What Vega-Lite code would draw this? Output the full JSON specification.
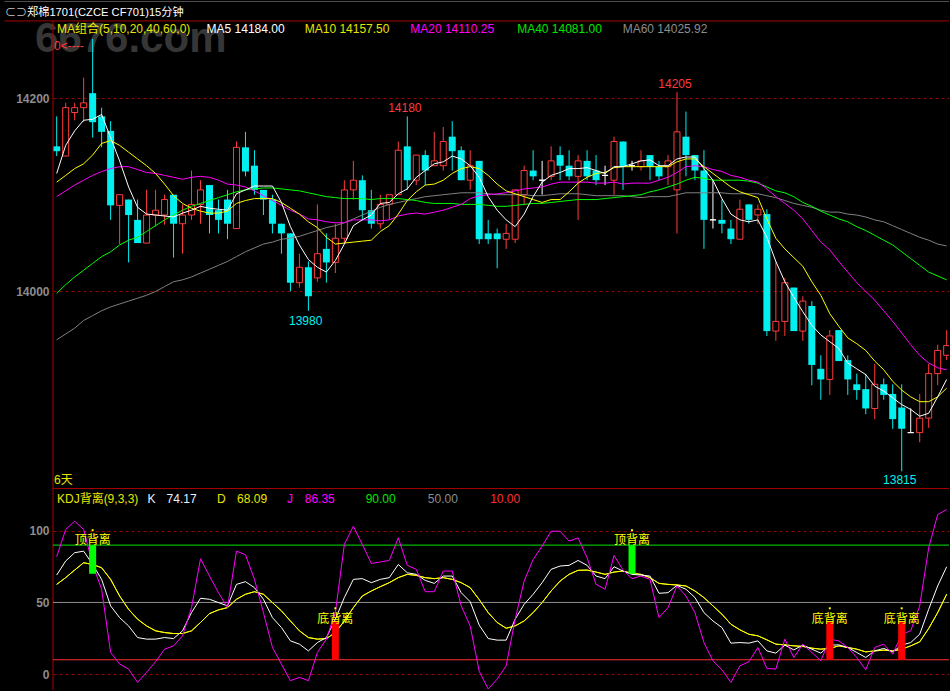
{
"$schema": "https://vega.github.io/schema/vega-lite/v6.json",
"width": 950, "height": 691,
"autosize": {"type": "fit", "contains": "padding"},
"padding": 0,
"background": "#000000",
"config": {"view": {"stroke": null}, "text": {"font": "Liberation Sans, Noto Sans CJK SC", "fontSize": 12, "align": "left", "baseline": "middle"}},
"datasets": {
"candles": [
{"i":0,"o":14150,"h":14181,"l":14140,"c":14145,"d":"down"},
{"i":1,"o":14140,"h":14195,"l":14140,"c":14190,"d":"up"},
{"i":2,"o":14185,"h":14195,"l":14177,"c":14190,"d":"up"},
{"i":3,"o":14190,"h":14221,"l":14175,"c":14195,"d":"up"},
{"i":4,"o":14205,"h":14261,"l":14159,"c":14175,"d":"down"},
{"i":5,"o":14181,"h":14190,"l":14149,"c":14165,"d":"down"},
{"i":6,"o":14166,"h":14176,"l":14074,"c":14089,"d":"down"},
{"i":7,"o":14089,"h":14100,"l":14049,"c":14100,"d":"up"},
{"i":8,"o":14095,"h":14095,"l":14030,"c":14079,"d":"down"},
{"i":9,"o":14074,"h":14095,"l":14050,"c":14050,"d":"down"},
{"i":10,"o":14050,"h":14105,"l":14050,"c":14079,"d":"up"},
{"i":11,"o":14079,"h":14105,"l":14067,"c":14084,"d":"up"},
{"i":12,"o":14079,"h":14100,"l":14069,"c":14095,"d":"up"},
{"i":13,"o":14100,"h":14100,"l":14035,"c":14070,"d":"down"},
{"i":14,"o":14070,"h":14090,"l":14039,"c":14079,"d":"up"},
{"i":15,"o":14079,"h":14125,"l":14074,"c":14090,"d":"up"},
{"i":16,"o":14090,"h":14115,"l":14070,"c":14105,"d":"up"},
{"i":17,"o":14110,"h":14110,"l":14060,"c":14079,"d":"down"},
{"i":18,"o":14084,"h":14095,"l":14060,"c":14074,"d":"down"},
{"i":19,"o":14095,"h":14105,"l":14054,"c":14070,"d":"down"},
{"i":20,"o":14065,"h":14155,"l":14065,"c":14149,"d":"up"},
{"i":21,"o":14149,"h":14165,"l":14119,"c":14124,"d":"down"},
{"i":22,"o":14130,"h":14146,"l":14100,"c":14105,"d":"down"},
{"i":23,"o":14105,"h":14105,"l":14079,"c":14095,"d":"down"},
{"i":24,"o":14095,"h":14100,"l":14060,"c":14070,"d":"down"},
{"i":25,"o":14070,"h":14070,"l":14039,"c":14060,"d":"down"},
{"i":26,"o":14060,"h":14060,"l":14000,"c":14009,"d":"down"},
{"i":27,"o":14009,"h":14039,"l":14004,"c":14025,"d":"up"},
{"i":28,"o":14025,"h":14031,"l":13980,"c":13995,"d":"down"},
{"i":29,"o":14014,"h":14090,"l":14010,"c":14039,"d":"up"},
{"i":30,"o":14044,"h":14060,"l":14009,"c":14030,"d":"down"},
{"i":31,"o":14030,"h":14070,"l":14019,"c":14055,"d":"up"},
{"i":32,"o":14055,"h":14115,"l":14050,"c":14105,"d":"up"},
{"i":33,"o":14105,"h":14135,"l":14095,"c":14115,"d":"up"},
{"i":34,"o":14115,"h":14120,"l":14074,"c":14084,"d":"down"},
{"i":35,"o":14084,"h":14105,"l":14065,"c":14070,"d":"down"},
{"i":36,"o":14070,"h":14100,"l":14065,"c":14090,"d":"up"},
{"i":37,"o":14090,"h":14100,"l":14074,"c":14100,"d":"up"},
{"i":38,"o":14100,"h":14155,"l":14100,"c":14146,"d":"up"},
{"i":39,"o":14150,"h":14181,"l":14105,"c":14115,"d":"down"},
{"i":40,"o":14115,"h":14141,"l":14110,"c":14141,"d":"up"},
{"i":41,"o":14141,"h":14146,"l":14110,"c":14125,"d":"down"},
{"i":42,"o":14130,"h":14165,"l":14130,"c":14135,"d":"up"},
{"i":43,"o":14130,"h":14170,"l":14125,"c":14155,"d":"up"},
{"i":44,"o":14160,"h":14176,"l":14125,"c":14145,"d":"down"},
{"i":45,"o":14146,"h":14150,"l":14115,"c":14115,"d":"down"},
{"i":46,"o":14115,"h":14146,"l":14105,"c":14130,"d":"up"},
{"i":47,"o":14135,"h":14135,"l":14049,"c":14054,"d":"down"},
{"i":48,"o":14060,"h":14074,"l":14049,"c":14054,"d":"down"},
{"i":49,"o":14060,"h":14065,"l":14024,"c":14054,"d":"down"},
{"i":50,"o":14054,"h":14070,"l":14044,"c":14060,"d":"up"},
{"i":51,"o":14054,"h":14105,"l":14050,"c":14105,"d":"up"},
{"i":52,"o":14100,"h":14130,"l":14089,"c":14125,"d":"up"},
{"i":53,"o":14125,"h":14146,"l":14115,"c":14119,"d":"down"},
{"i":54,"o":14115,"h":14135,"l":14100,"c":14115,"d":"flat"},
{"i":55,"o":14119,"h":14150,"l":14115,"c":14135,"d":"up"},
{"i":56,"o":14141,"h":14150,"l":14115,"c":14130,"d":"down"},
{"i":57,"o":14130,"h":14146,"l":14115,"c":14119,"d":"down"},
{"i":58,"o":14119,"h":14141,"l":14074,"c":14135,"d":"up"},
{"i":59,"o":14135,"h":14146,"l":14115,"c":14119,"d":"down"},
{"i":60,"o":14125,"h":14141,"l":14110,"c":14115,"d":"down"},
{"i":61,"o":14120,"h":14130,"l":14110,"c":14120,"d":"flat"},
{"i":62,"o":14115,"h":14160,"l":14100,"c":14155,"d":"up"},
{"i":63,"o":14155,"h":14155,"l":14105,"c":14129,"d":"down"},
{"i":64,"o":14130,"h":14135,"l":14125,"c":14130,"d":"flat"},
{"i":65,"o":14129,"h":14146,"l":14125,"c":14135,"d":"up"},
{"i":66,"o":14141,"h":14141,"l":14115,"c":14129,"d":"down"},
{"i":67,"o":14129,"h":14135,"l":14115,"c":14119,"d":"down"},
{"i":68,"o":14129,"h":14141,"l":14110,"c":14135,"d":"up"},
{"i":69,"o":14105,"h":14206,"l":14060,"c":14165,"d":"up"},
{"i":70,"o":14160,"h":14186,"l":14119,"c":14141,"d":"down"},
{"i":71,"o":14141,"h":14141,"l":14115,"c":14125,"d":"down"},
{"i":72,"o":14125,"h":14146,"l":14044,"c":14074,"d":"down"},
{"i":73,"o":14074,"h":14115,"l":14065,"c":14074,"d":"flat"},
{"i":74,"o":14074,"h":14095,"l":14060,"c":14070,"d":"down"},
{"i":75,"o":14065,"h":14074,"l":14049,"c":14054,"d":"down"},
{"i":76,"o":14054,"h":14095,"l":14054,"c":14085,"d":"up"},
{"i":77,"o":14090,"h":14090,"l":14070,"c":14074,"d":"down"},
{"i":78,"o":14079,"h":14090,"l":14070,"c":14085,"d":"up"},
{"i":79,"o":14080,"h":14085,"l":13954,"c":13959,"d":"down"},
{"i":80,"o":13959,"h":14031,"l":13949,"c":13969,"d":"up"},
{"i":81,"o":13969,"h":14014,"l":13954,"c":14009,"d":"up"},
{"i":82,"o":14004,"h":14004,"l":13959,"c":13959,"d":"down"},
{"i":83,"o":13959,"h":13995,"l":13949,"c":13990,"d":"up"},
{"i":84,"o":13985,"h":13990,"l":13903,"c":13924,"d":"down"},
{"i":85,"o":13920,"h":13934,"l":13888,"c":13909,"d":"down"},
{"i":86,"o":13909,"h":13960,"l":13893,"c":13954,"d":"up"},
{"i":87,"o":13960,"h":13960,"l":13928,"c":13928,"d":"down"},
{"i":88,"o":13929,"h":13934,"l":13893,"c":13909,"d":"down"},
{"i":89,"o":13904,"h":13915,"l":13888,"c":13898,"d":"down"},
{"i":90,"o":13899,"h":13915,"l":13873,"c":13879,"d":"down"},
{"i":91,"o":13879,"h":13925,"l":13868,"c":13904,"d":"up"},
{"i":92,"o":13904,"h":13910,"l":13888,"c":13893,"d":"down"},
{"i":93,"o":13894,"h":13904,"l":13858,"c":13868,"d":"down"},
{"i":94,"o":13880,"h":13904,"l":13814,"c":13858,"d":"down"},
{"i":95,"o":13854,"h":13879,"l":13854,"c":13854,"d":"flat"},
{"i":96,"o":13854,"h":13894,"l":13844,"c":13869,"d":"up"},
{"i":97,"o":13869,"h":13925,"l":13859,"c":13915,"d":"up"},
{"i":98,"o":13915,"h":13945,"l":13903,"c":13939,"d":"up"},
{"i":99,"o":13934,"h":13960,"l":13929,"c":13944,"d":"up"}
],
"ma": [
{"i":0,"ma5":14122,"ma10":14113,"ma20":14098,"ma40":13998,"ma60":13950},
{"i":1,"ma5":14151,"ma10":14120,"ma20":14104,"ma40":14007,"ma60":13956},
{"i":2,"ma5":14166,"ma10":14127,"ma20":14110,"ma40":14015,"ma60":13962},
{"i":3,"ma5":14177,"ma10":14132,"ma20":14115,"ma40":14022,"ma60":13970},
{"i":4,"ma5":14178,"ma10":14141,"ma20":14120,"ma40":14029,"ma60":13975},
{"i":5,"ma5":14183,"ma10":14153,"ma20":14124,"ma40":14036,"ma60":13980},
{"i":6,"ma5":14159,"ma10":14156,"ma20":14127,"ma40":14041,"ma60":13984},
{"i":7,"ma5":14135,"ma10":14151,"ma20":14129,"ma40":14048,"ma60":13987},
{"i":8,"ma5":14108,"ma10":14144,"ma20":14129,"ma40":14053,"ma60":13990},
{"i":9,"ma5":14087,"ma10":14137,"ma20":14126,"ma40":14056,"ma60":13993},
{"i":10,"ma5":14080,"ma10":14130,"ma20":14123,"ma40":14062,"ma60":13996},
{"i":11,"ma5":14079,"ma10":14122,"ma20":14122,"ma40":14068,"ma60":14000},
{"i":12,"ma5":14078,"ma10":14111,"ma20":14120,"ma40":14074,"ma60":14005},
{"i":13,"ma5":14077,"ma10":14099,"ma20":14118,"ma40":14079,"ma60":14010},
{"i":14,"ma5":14081,"ma10":14091,"ma20":14116,"ma40":14084,"ma60":14012},
{"i":15,"ma5":14084,"ma10":14086,"ma20":14118,"ma40":14088,"ma60":14015},
{"i":16,"ma5":14088,"ma10":14083,"ma20":14119,"ma40":14091,"ma60":14019},
{"i":17,"ma5":14086,"ma10":14081,"ma20":14118,"ma40":14094,"ma60":14023},
{"i":18,"ma5":14085,"ma10":14081,"ma20":14115,"ma40":14097,"ma60":14027},
{"i":19,"ma5":14084,"ma10":14083,"ma20":14111,"ma40":14100,"ma60":14031},
{"i":20,"ma5":14101,"ma10":14091,"ma20":14110,"ma40":14103,"ma60":14036},
{"i":21,"ma5":14105,"ma10":14094,"ma20":14108,"ma40":14105,"ma60":14041},
{"i":22,"ma5":14109,"ma10":14096,"ma20":14104,"ma40":14106,"ma60":14045},
{"i":23,"ma5":14109,"ma10":14096,"ma20":14099,"ma40":14107,"ma60":14049},
{"i":24,"ma5":14109,"ma10":14096,"ma20":14094,"ma40":14107,"ma60":14051},
{"i":25,"ma5":14092,"ma10":14092,"ma20":14089,"ma40":14106,"ma60":14054},
{"i":26,"ma5":14067,"ma10":14086,"ma20":14084,"ma40":14105,"ma60":14055},
{"i":27,"ma5":14048,"ma10":14080,"ma20":14080,"ma40":14104,"ma60":14057},
{"i":28,"ma5":14033,"ma10":14072,"ma20":14075,"ma40":14102,"ma60":14060},
{"i":29,"ma5":14025,"ma10":14066,"ma20":14074,"ma40":14100,"ma60":14063},
{"i":30,"ma5":14020,"ma10":14056,"ma20":14072,"ma40":14098,"ma60":14066},
{"i":31,"ma5":14032,"ma10":14049,"ma20":14071,"ma40":14097,"ma60":14068},
{"i":32,"ma5":14049,"ma10":14050,"ma20":14071,"ma40":14096,"ma60":14071},
{"i":33,"ma5":14068,"ma10":14051,"ma20":14074,"ma40":14096,"ma60":14075},
{"i":34,"ma5":14074,"ma10":14052,"ma20":14074,"ma40":14096,"ma60":14079},
{"i":35,"ma5":14079,"ma10":14053,"ma20":14074,"ma40":14095,"ma60":14083},
{"i":36,"ma5":14091,"ma10":14062,"ma20":14073,"ma40":14096,"ma60":14087},
{"i":37,"ma5":14092,"ma10":14068,"ma20":14074,"ma40":14096,"ma60":14090},
{"i":38,"ma5":14101,"ma10":14080,"ma20":14078,"ma40":14096,"ma60":14092},
{"i":39,"ma5":14106,"ma10":14094,"ma20":14080,"ma40":14095,"ma60":14094},
{"i":40,"ma5":14118,"ma10":14103,"ma20":14081,"ma40":14094,"ma60":14096},
{"i":41,"ma5":14125,"ma10":14110,"ma20":14080,"ma40":14092,"ma60":14098},
{"i":42,"ma5":14132,"ma10":14111,"ma20":14082,"ma40":14091,"ma60":14099},
{"i":43,"ma5":14134,"ma10":14115,"ma20":14084,"ma40":14091,"ma60":14100},
{"i":44,"ma5":14140,"ma10":14122,"ma20":14087,"ma40":14091,"ma60":14101},
{"i":45,"ma5":14137,"ma10":14127,"ma20":14090,"ma40":14090,"ma60":14102},
{"i":46,"ma5":14130,"ma10":14129,"ma20":14096,"ma40":14090,"ma60":14102},
{"i":47,"ma5":14118,"ma10":14127,"ma20":14099,"ma40":14090,"ma60":14102},
{"i":48,"ma5":14098,"ma10":14120,"ma20":14100,"ma40":14089,"ma60":14101},
{"i":49,"ma5":14084,"ma10":14111,"ma20":14101,"ma40":14088,"ma60":14100},
{"i":50,"ma5":14074,"ma10":14104,"ma20":14102,"ma40":14088,"ma60":14100},
{"i":51,"ma5":14067,"ma10":14101,"ma20":14104,"ma40":14089,"ma60":14100},
{"i":52,"ma5":14080,"ma10":14098,"ma20":14106,"ma40":14090,"ma60":14100},
{"i":53,"ma5":14098,"ma10":14095,"ma20":14107,"ma40":14091,"ma60":14099},
{"i":54,"ma5":14113,"ma10":14092,"ma20":14108,"ma40":14091,"ma60":14099},
{"i":55,"ma5":14120,"ma10":14095,"ma20":14111,"ma40":14092,"ma60":14100},
{"i":56,"ma5":14123,"ma10":14095,"ma20":14113,"ma40":14093,"ma60":14101},
{"i":57,"ma5":14127,"ma10":14103,"ma20":14113,"ma40":14094,"ma60":14101},
{"i":58,"ma5":14127,"ma10":14112,"ma20":14113,"ma40":14095,"ma60":14101},
{"i":59,"ma5":14128,"ma10":14118,"ma20":14113,"ma40":14095,"ma60":14100},
{"i":60,"ma5":14125,"ma10":14122,"ma20":14112,"ma40":14095,"ma60":14099},
{"i":61,"ma5":14122,"ma10":14123,"ma20":14112,"ma40":14096,"ma60":14099},
{"i":62,"ma5":14129,"ma10":14128,"ma20":14113,"ma40":14097,"ma60":14099},
{"i":63,"ma5":14129,"ma10":14129,"ma20":14111,"ma40":14098,"ma60":14099},
{"i":64,"ma5":14132,"ma10":14129,"ma20":14112,"ma40":14099,"ma60":14098},
{"i":65,"ma5":14135,"ma10":14129,"ma20":14112,"ma40":14100,"ma60":14097},
{"i":66,"ma5":14136,"ma10":14129,"ma20":14112,"ma40":14103,"ma60":14098},
{"i":67,"ma5":14130,"ma10":14129,"ma20":14115,"ma40":14105,"ma60":14098},
{"i":68,"ma5":14130,"ma10":14129,"ma20":14118,"ma40":14108,"ma60":14098},
{"i":69,"ma5":14137,"ma10":14134,"ma20":14123,"ma40":14111,"ma60":14100},
{"i":70,"ma5":14139,"ma10":14137,"ma20":14129,"ma40":14115,"ma60":14102},
{"i":71,"ma5":14139,"ma10":14137,"ma20":14130,"ma40":14118,"ma60":14102},
{"i":72,"ma5":14127,"ma10":14129,"ma20":14129,"ma40":14117,"ma60":14102},
{"i":73,"ma5":14115,"ma10":14122,"ma20":14126,"ma40":14115,"ma60":14102},
{"i":74,"ma5":14096,"ma10":14115,"ma20":14124,"ma40":14115,"ma60":14102},
{"i":75,"ma5":14080,"ma10":14108,"ma20":14120,"ma40":14115,"ma60":14101},
{"i":76,"ma5":14074,"ma10":14103,"ma20":14118,"ma40":14115,"ma60":14101},
{"i":77,"ma5":14072,"ma10":14100,"ma20":14115,"ma40":14114,"ma60":14101},
{"i":78,"ma5":14074,"ma10":14097,"ma20":14113,"ma40":14112,"ma60":14101},
{"i":79,"ma5":14056,"ma10":14075,"ma20":14106,"ma40":14108,"ma60":14099},
{"i":80,"ma5":14031,"ma10":14055,"ma20":14098,"ma40":14104,"ma60":14097},
{"i":81,"ma5":14010,"ma10":14044,"ma20":14091,"ma40":14102,"ma60":14094},
{"i":82,"ma5":13994,"ma10":14035,"ma20":14084,"ma40":14098,"ma60":14091},
{"i":83,"ma5":13979,"ma10":14026,"ma20":14075,"ma40":14092,"ma60":14089},
{"i":84,"ma5":13965,"ma10":14010,"ma20":14063,"ma40":14088,"ma60":14087},
{"i":85,"ma5":13955,"ma10":13996,"ma20":14051,"ma40":14083,"ma60":14084},
{"i":86,"ma5":13948,"ma10":13977,"ma20":14043,"ma40":14079,"ma60":14082},
{"i":87,"ma5":13941,"ma10":13964,"ma20":14031,"ma40":14075,"ma60":14082},
{"i":88,"ma5":13926,"ma10":13952,"ma20":14020,"ma40":14072,"ma60":14080},
{"i":89,"ma5":13920,"ma10":13946,"ma20":14009,"ma40":14067,"ma60":14079},
{"i":90,"ma5":13914,"ma10":13939,"ma20":14000,"ma40":14063,"ma60":14077},
{"i":91,"ma5":13902,"ma10":13928,"ma20":13991,"ma40":14058,"ma60":14074},
{"i":92,"ma5":13897,"ma10":13919,"ma20":13980,"ma40":14053,"ma60":14072},
{"i":93,"ma5":13890,"ma10":13907,"ma20":13969,"ma40":14048,"ma60":14068},
{"i":94,"ma5":13883,"ma10":13898,"ma20":13957,"ma40":14041,"ma60":14064},
{"i":95,"ma5":13878,"ma10":13891,"ma20":13945,"ma40":14034,"ma60":14060},
{"i":96,"ma5":13871,"ma10":13886,"ma20":13934,"ma40":14027,"ma60":14056},
{"i":97,"ma5":13874,"ma10":13886,"ma20":13926,"ma40":14020,"ma60":14053},
{"i":98,"ma5":13891,"ma10":13891,"ma20":13921,"ma40":14016,"ma60":14049},
{"i":99,"ma5":13909,"ma10":13900,"ma20":13919,"ma40":14012,"ma60":14047}
],
"kdj": [
{"i":0,"k":69.1,"d":62.6,"j":81.9},{"i":1,"k":78.9,"d":67.3,"j":100.9},{"i":2,"k":84.7,"d":72.6,"j":106.7},{"i":3,"k":85.8,"d":77.7,"j":100.9},{"i":4,"k":76.5,"d":76.5,"j":76.5},
{"i":5,"k":66.1,"d":74.2,"j":59.2},{"i":6,"k":47.6,"d":66.1,"j":15.1},{"i":7,"k":39.4,"d":54.5,"j":7.0},{"i":8,"k":33.6,"d":45.2,"j":3.5},{"i":9,"k":25.5,"d":38.3,"j":-5.8},
{"i":10,"k":24.4,"d":33.6,"j":1.2},{"i":11,"k":24.4,"d":30.2,"j":8.6},{"i":12,"k":25.5,"d":29.0,"j":17.4},{"i":13,"k":24.8,"d":28.3,"j":19.7},{"i":14,"k":30.2,"d":28.3,"j":26.7},
{"i":15,"k":42.9,"d":30.2,"j":46.4},{"i":16,"k":52.9,"d":36.0,"j":80.5},{"i":17,"k":52.2,"d":42.2,"j":68.4},{"i":18,"k":49.9,"d":44.8,"j":56.8},{"i":19,"k":47.6,"d":46.4,"j":46.4},
{"i":20,"k":62.6,"d":52.2,"j":85.8},{"i":21,"k":64.5,"d":55.7,"j":83.3},{"i":22,"k":60.3,"d":57.5,"j":66.1},{"i":23,"k":52.2,"d":55.7,"j":42.9},{"i":24,"k":39.4,"d":49.9,"j":18.6},
{"i":25,"k":32.5,"d":44.1,"j":7.0},{"i":26,"k":23.2,"d":37.1,"j":-4.6},{"i":27,"k":20.9,"d":30.2,"j":-2.3},{"i":28,"k":16.2,"d":25.5,"j":-4.6},{"i":29,"k":22.0,"d":24.4,"j":15.1},
{"i":30,"k":25.5,"d":24.8,"j":24.4},{"i":31,"k":38.3,"d":29.0,"j":42.9},{"i":32,"k":53.4,"d":37.1,"j":90.5},{"i":33,"k":66.1,"d":46.4,"j":103.2},{"i":34,"k":66.6,"d":54.5,"j":90.5},
{"i":35,"k":63.8,"d":58.0,"j":77.2},{"i":36,"k":66.1,"d":61.0,"j":78.2},{"i":37,"k":67.3,"d":63.8,"j":79.3},{"i":38,"k":76.5,"d":67.3,"j":95.1},{"i":39,"k":70.7,"d":69.6,"j":75.9},
{"i":40,"k":69.6,"d":68.9,"j":73.1},{"i":41,"k":65.4,"d":67.3,"j":57.5},{"i":42,"k":63.3,"d":66.6,"j":57.5},{"i":43,"k":68.4,"d":67.3,"j":71.9},{"i":44,"k":68.4,"d":66.1,"j":71.9},
{"i":45,"k":56.8,"d":63.8,"j":47.6},{"i":46,"k":50.5,"d":60.3,"j":33.5},{"i":47,"k":34.2,"d":52.0,"j":2.0},{"i":48,"k":24.8,"d":42.9,"j":-10.4},{"i":49,"k":23.7,"d":36.0,"j":-3.5},
{"i":50,"k":23.7,"d":32.0,"j":5.8},{"i":51,"k":38.3,"d":33.6,"j":38.3},{"i":52,"k":48.7,"d":37.1,"j":64.9},{"i":53,"k":55.7,"d":42.9,"j":80.0},{"i":54,"k":63.8,"d":49.9,"j":89.3},
{"i":55,"k":73.1,"d":58.0,"j":99.7},{"i":56,"k":75.4,"d":64.9,"j":99.7},{"i":57,"k":75.9,"d":69.6,"j":92.8},{"i":58,"k":79.3,"d":72.4,"j":95.1},{"i":59,"k":75.9,"d":72.6,"j":81.2},
{"i":60,"k":68.4,"d":71.2,"j":62.6},{"i":61,"k":66.6,"d":69.6,"j":59.2},{"i":62,"k":74.9,"d":71.2,"j":82.8},{"i":63,"k":71.9,"d":71.9,"j":72.6},{"i":64,"k":69.6,"d":70.3,"j":66.6},
{"i":65,"k":69.1,"d":69.6,"j":68.4},{"i":66,"k":68.4,"d":67.3,"j":66.1},{"i":67,"k":56.4,"d":63.3,"j":39.4},{"i":68,"k":56.8,"d":62.6,"j":46.4},{"i":69,"k":61.9,"d":62.2,"j":61.5},
{"i":70,"k":59.2,"d":61.5,"j":54.5},{"i":71,"k":53.4,"d":58.0,"j":42.9},{"i":72,"k":42.9,"d":53.4,"j":22.0},{"i":73,"k":37.1,"d":47.6,"j":9.3},{"i":74,"k":32.5,"d":41.8,"j":3.0},
{"i":75,"k":21.6,"d":34.8,"j":-5.8},{"i":76,"k":22.0,"d":30.9,"j":5.8},{"i":77,"k":21.6,"d":27.8,"j":8.6},{"i":78,"k":23.2,"d":26.7,"j":18.6},{"i":79,"k":16.2,"d":23.9,"j":3.9},
{"i":80,"k":14.6,"d":20.9,"j":3.5},{"i":81,"k":20.2,"d":20.4,"j":24.4},{"i":82,"k":16.9,"d":19.7,"j":11.6},{"i":83,"k":20.2,"d":19.3,"j":20.9},{"i":84,"k":17.4,"d":18.1,"j":15.1},
{"i":85,"k":14.6,"d":17.4,"j":9.3},{"i":86,"k":20.2,"d":17.9,"j":24.4},{"i":87,"k":20.4,"d":19.7,"j":23.2},{"i":88,"k":18.6,"d":18.6,"j":18.6},{"i":89,"k":15.1,"d":17.4,"j":11.6},
{"i":90,"k":11.6,"d":15.5,"j":3.0},{"i":91,"k":16.2,"d":16.2,"j":18.6},{"i":92,"k":17.9,"d":16.7,"j":20.9},{"i":93,"k":15.5,"d":16.2,"j":13.9},{"i":94,"k":20.2,"d":17.4,"j":27.8},
{"i":95,"k":22.0,"d":19.7,"j":30.2},{"i":96,"k":27.8,"d":22.5,"j":47.6},{"i":97,"k":45.2,"d":31.8,"j":88.1},{"i":98,"k":61.5,"d":42.9,"j":111.3},{"i":99,"k":74.9,"d":55.7,"j":114.8}
],
"div": [
{"i":4,"lo":70,"hi":90,"kind":"顶背离"},
{"i":31,"lo":10,"hi":37,"kind":"底背离"},
{"i":64,"lo":70,"hi":90,"kind":"顶背离"},
{"i":86,"lo":10,"hi":37,"kind":"底背离"},
{"i":94,"lo":10,"hi":37,"kind":"底背离"}
],
"ann": [
{"t":"MA组合(5,10,20,40,60,0)","x":0.03,"y":14271.4,"g":"MA组合"},
{"t":"MA5 14184.00","x":16.67,"y":14271.4,"g":"MA5"},
{"t":"MA10 14157.50","x":27.59,"y":14271.4,"g":"MA10"},
{"t":"MA20 14110.25","x":39.33,"y":14271.4,"g":"MA20"},
{"t":"MA40 14081.00","x":51.22,"y":14271.4,"g":"MA40"},
{"t":"MA60 14025.92","x":62.96,"y":14271.4,"g":"MA60"},
{"t":"0<----","x":-0.3,"y":14253.9,"g":"high"},
{"t":"6天","x":-0.3,"y":13805.5,"g":"MA组合"}
],
"marks": [
{"t":"14180","x":38.73,"y":14189.3,"g":"high"},
{"t":"14205","x":68.78,"y":14214.4,"g":"high"},
{"t":"13980","x":27.7,"y":13969.7,"g":"low"},
{"t":"13815","x":93.78,"y":13805.5,"g":"low"}
],
"kleg": [
{"t":"KDJ背离(9,3,3)","x":0.03,"g":"D"},
{"t":"K","x":10.11,"g":"K"},
{"t":"74.17","x":12.22,"g":"K"},
{"t":"D","x":17.84,"g":"D"},
{"t":"68.09","x":20.07,"g":"D"},
{"t":"J","x":25.62,"g":"J"},
{"t":"86.35","x":27.59,"g":"J"},
{"t":"90.00","x":34.37,"g":"90"},
{"t":"50.00","x":41.29,"g":"50"},
{"t":"10.00","x":48.22,"g":"10"}
],
"frame": [
{"x":-5.8,"x2":99.26,"y":14279.7,"g":"red"},
{"x":-0.41,"x2":99.26,"y":13796.2,"g":"red"},
{"x":-5.8,"x2":99.26,"y":14299.8,"g":"gray"}
]
},
"resolve": {"scale": {"y": "independent"}},
"layer": [
{"data": {"values": [{"t": "6676.com"}]}, "mark": {"type": "text", "color": "#363636", "fontSize": 42, "fontWeight": "bold", "font": "Liberation Sans"},
 "encoding": {"text": {"field": "t"},
  "x": {"datum": -2.41, "type": "quantitative", "scale": {"domain": [-0.41, 99.26], "nice": false, "zero": false, "padding": 0}, "axis": null},
  "y": {"datum": 14261, "type": "quantitative", "scale": {"domain": [13587.9, 14300.3], "nice": false, "zero": false}, "axis": null}}},
{"data": {"name": "candles"}, "transform": [{"filter": "datum.d == 'up'"}], "mark": {"type": "rule", "color": "#ff3c3c", "strokeWidth": 1, "clip": true},
 "encoding": {
  "x": {"field": "i", "type": "quantitative", "axis": null},
  "y": {"field": "l", "type": "quantitative", "scale": {"domain": [13587.9, 14300.3], "nice": false, "zero": false},
        "axis": {"values": [14000, 14200], "orient": "left", "format": "d", "title": null, "domain": false, "ticks": false, "labelColor": "#8c8c8c", "labelFont": "Liberation Sans", "labelFontWeight": "bold", "labelFontSize": 12, "labelPadding": 4, "grid": true, "gridColor": "#9a0000", "gridDash": [3, 3], "gridWidth": 1, "minExtent": 53, "maxExtent": 53}},
  "y2": {"field": "h"}}},
{"data": {"name": "candles"}, "transform": [{"filter": "datum.d == 'down'"}], "mark": {"type": "rule", "color": "#00f0f0", "strokeWidth": 1, "clip": true},
 "encoding": {"x": {"field": "i", "type": "quantitative", "axis": null}, "y": {"field": "l", "type": "quantitative", "scale": {"domain": [13587.9, 14300.3], "nice": false, "zero": false}, "axis": null}, "y2": {"field": "h"}}},
{"data": {"name": "candles"}, "transform": [{"filter": "datum.d == 'flat'"}], "mark": {"type": "rule", "color": "#ffffff", "strokeWidth": 1, "clip": true},
 "encoding": {"x": {"field": "i", "type": "quantitative", "axis": null}, "y": {"field": "l", "type": "quantitative", "scale": {"domain": [13587.9, 14300.3], "nice": false, "zero": false}, "axis": null}, "y2": {"field": "h"}}},
{"data": {"name": "candles"}, "transform": [{"filter": "datum.d == 'down'"}], "mark": {"type": "bar", "color": "#00f0f0", "width": 7, "clip": true},
 "encoding": {"x": {"field": "i", "type": "quantitative", "axis": null}, "y": {"field": "o", "type": "quantitative", "scale": {"domain": [13587.9, 14300.3], "nice": false, "zero": false}, "axis": null}, "y2": {"field": "c"}}},
{"data": {"name": "candles"}, "transform": [{"filter": "datum.d == 'up'"}], "mark": {"type": "bar", "fill": "#000000", "stroke": "#ff3c3c", "strokeWidth": 1, "width": 6, "clip": true},
 "encoding": {"x": {"field": "i", "type": "quantitative", "axis": null}, "y": {"field": "o", "type": "quantitative", "scale": {"domain": [13587.9, 14300.3], "nice": false, "zero": false}, "axis": null}, "y2": {"field": "c"}}},
{"data": {"name": "candles"}, "transform": [{"filter": "datum.d == 'flat'"}], "mark": {"type": "bar", "fill": "#ffffff", "stroke": "#ffffff", "strokeWidth": 1, "width": 6, "clip": true},
 "encoding": {"x": {"field": "i", "type": "quantitative", "axis": null}, "y": {"field": "o", "type": "quantitative", "scale": {"domain": [13587.9, 14300.3], "nice": false, "zero": false}, "axis": null}, "y2": {"field": "c"}}},
{"data": {"name": "ma"}, "mark": {"type": "line", "color": "#808080", "strokeWidth": 1, "clip": true},
 "encoding": {"x": {"field": "i", "type": "quantitative", "axis": null}, "y": {"field": "ma60", "type": "quantitative", "scale": {"domain": [13587.9, 14300.3], "nice": false, "zero": false}, "axis": null}}},
{"data": {"name": "ma"}, "mark": {"type": "line", "color": "#00ff00", "strokeWidth": 1, "clip": true},
 "encoding": {"x": {"field": "i", "type": "quantitative", "axis": null}, "y": {"field": "ma40", "type": "quantitative", "scale": {"domain": [13587.9, 14300.3], "nice": false, "zero": false}, "axis": null}}},
{"data": {"name": "ma"}, "mark": {"type": "line", "color": "#ff00ff", "strokeWidth": 1, "clip": true},
 "encoding": {"x": {"field": "i", "type": "quantitative", "axis": null}, "y": {"field": "ma20", "type": "quantitative", "scale": {"domain": [13587.9, 14300.3], "nice": false, "zero": false}, "axis": null}}},
{"data": {"name": "ma"}, "mark": {"type": "line", "color": "#ffff00", "strokeWidth": 1, "clip": true},
 "encoding": {"x": {"field": "i", "type": "quantitative", "axis": null}, "y": {"field": "ma10", "type": "quantitative", "scale": {"domain": [13587.9, 14300.3], "nice": false, "zero": false}, "axis": null}}},
{"data": {"name": "ma"}, "mark": {"type": "line", "color": "#ffffff", "strokeWidth": 1, "clip": true},
 "encoding": {"x": {"field": "i", "type": "quantitative", "axis": null}, "y": {"field": "ma5", "type": "quantitative", "scale": {"domain": [13587.9, 14300.3], "nice": false, "zero": false}, "axis": null}}},
{"data": {"name": "frame"}, "transform": [{"filter": "datum.g == 'red'"}], "mark": {"type": "rule", "color": "#a80000", "strokeWidth": 1},
 "encoding": {"x": {"field": "x", "type": "quantitative", "axis": null}, "x2": {"field": "x2"},
  "y": {"field": "y", "type": "quantitative", "scale": {"domain": [13587.9, 14300.3], "nice": false, "zero": false}, "axis": null}}},
{"data": {"name": "frame"}, "transform": [{"filter": "datum.g == 'gray'"}], "mark": {"type": "rule", "color": "#505050", "strokeWidth": 1},
 "encoding": {"x": {"field": "x", "type": "quantitative", "axis": null}, "x2": {"field": "x2"},
  "y": {"field": "y", "type": "quantitative", "scale": {"domain": [13587.9, 14300.3], "nice": false, "zero": false}, "axis": null}}},
{"data": {"values": [{"x": -0.41, "y": 14279.7, "y2": 13587.9}]}, "mark": {"type": "rule", "color": "#b00000", "strokeWidth": 1},
 "encoding": {"x": {"field": "x", "type": "quantitative", "axis": null},
  "y": {"field": "y", "type": "quantitative", "scale": {"domain": [13587.9, 14300.3], "nice": false, "zero": false}, "axis": null}, "y2": {"field": "y2"}}},
{"data": {"values": [{"t": "⊂⊃"}]}, "mark": {"type": "text", "color": "#c8c8c8", "fontSize": 11},
 "encoding": {"text": {"field": "t"}, "x": {"datum": -5.74, "type": "quantitative", "axis": null}, "y": {"datum": 14288.4, "type": "quantitative", "scale": {"domain": [13587.9, 14300.3], "nice": false, "zero": false}, "axis": null}}},
{"data": {"values": [{"t": "郑棉1701(CZCE CF701)15分钟"}]}, "mark": {"type": "text", "color": "#ffffff", "fontSize": 11.2},
 "encoding": {"text": {"field": "t"}, "x": {"datum": -3.3, "type": "quantitative", "axis": null}, "y": {"datum": 14288.4, "type": "quantitative", "scale": {"domain": [13587.9, 14300.3], "nice": false, "zero": false}, "axis": null}}},
{"data": {"name": "ann"}, "mark": {"type": "text"},
 "encoding": {"text": {"field": "t"}, "x": {"field": "x", "type": "quantitative", "axis": null},
  "y": {"field": "y", "type": "quantitative", "scale": {"domain": [13587.9, 14300.3], "nice": false, "zero": false}, "axis": null},
  "color": {"field": "g", "type": "nominal", "legend": null, "scale": {"domain": ["title","MA组合","MA5","MA10","MA20","MA40","MA60","high","low","K","D","J","90","50","10"], "range": ["#ffffff","#e6e600","#ffffff","#e6e600","#ff00ff","#00e600","#8c8c8c","#ff3c3c","#00f0f0","#e8f0ff","#e6e600","#ff00ff","#00e600","#8c8c8c","#ff3030"]}}}},
{"data": {"name": "marks"}, "mark": {"type": "text", "align": "center"},
 "encoding": {"text": {"field": "t"}, "x": {"field": "x", "type": "quantitative", "axis": null},
  "y": {"field": "y", "type": "quantitative", "scale": {"domain": [13587.9, 14300.3], "nice": false, "zero": false}, "axis": null},
  "color": {"field": "g", "type": "nominal", "legend": null}}},
{"data": {"name": "kdj"}, "mark": {"type": "line", "color": "#ffff00", "strokeWidth": 1, "clip": true},
 "encoding": {"x": {"field": "i", "type": "quantitative", "axis": null},
  "y": {"field": "d", "type": "quantitative", "scale": {"domain": [-11.1, 469.7], "nice": false, "zero": false},
   "axis": {"values": [0, 50, 100], "orient": "left", "format": "d", "title": null, "domain": false, "ticks": false, "labelColor": "#8c8c8c", "labelFont": "Liberation Sans", "labelFontWeight": "bold", "labelFontSize": 12, "labelPadding": 4, "grid": true, "gridColor": "#9a0000", "gridDash": [3, 3], "gridWidth": 1, "minExtent": 53, "maxExtent": 53}}}},
{"data": {"values": [{"y": 90, "g": "90"}, {"y": 50, "g": "50"}, {"y": 10, "g": "10"}]}, "mark": {"type": "rule", "strokeWidth": 1},
 "encoding": {"y": {"field": "y", "type": "quantitative", "scale": {"domain": [-11.1, 469.7], "nice": false, "zero": false}, "axis": null},
  "color": {"field": "g", "type": "nominal", "legend": null}}},
{"data": {"name": "kdj"}, "mark": {"type": "line", "color": "#ffff00", "strokeWidth": 1, "clip": true},
 "encoding": {"x": {"field": "i", "type": "quantitative", "axis": null}, "y": {"field": "d", "type": "quantitative", "scale": {"domain": [-11.1, 469.7], "nice": false, "zero": false}, "axis": null}}},
{"data": {"name": "kdj"}, "mark": {"type": "line", "color": "#ffffff", "strokeWidth": 1, "clip": true},
 "encoding": {"x": {"field": "i", "type": "quantitative", "axis": null}, "y": {"field": "k", "type": "quantitative", "scale": {"domain": [-11.1, 469.7], "nice": false, "zero": false}, "axis": null}}},
{"data": {"name": "kdj"}, "mark": {"type": "line", "color": "#ff00ff", "strokeWidth": 1, "clip": true},
 "encoding": {"x": {"field": "i", "type": "quantitative", "axis": null}, "y": {"field": "j", "type": "quantitative", "scale": {"domain": [-11.1, 469.7], "nice": false, "zero": false}, "axis": null}}},
{"data": {"name": "div"}, "transform": [{"filter": "datum.kind == '顶背离'"}], "mark": {"type": "bar", "color": "#00ff00", "width": 7},
 "encoding": {"x": {"field": "i", "type": "quantitative", "axis": null}, "y": {"field": "lo", "type": "quantitative", "scale": {"domain": [-11.1, 469.7], "nice": false, "zero": false}, "axis": null}, "y2": {"field": "hi"}}},
{"data": {"name": "div"}, "transform": [{"filter": "datum.kind == '底背离'"}], "mark": {"type": "bar", "color": "#ff0000", "width": 7},
 "encoding": {"x": {"field": "i", "type": "quantitative", "axis": null}, "y": {"field": "lo", "type": "quantitative", "scale": {"domain": [-11.1, 469.7], "nice": false, "zero": false}, "axis": null}, "y2": {"field": "hi"}}},
{"data": {"name": "div"}, "transform": [{"filter": "datum.kind == '顶背离'"}], "mark": {"type": "text", "color": "#ffff00", "align": "center"},
 "encoding": {"text": {"field": "kind"}, "x": {"field": "i", "type": "quantitative", "axis": null}, "y": {"datum": 93.7, "type": "quantitative", "scale": {"domain": [-11.1, 469.7], "nice": false, "zero": false}, "axis": null}}},
{"data": {"name": "div"}, "transform": [{"filter": "datum.kind == '底背离'"}], "mark": {"type": "text", "color": "#ffff00", "align": "center"},
 "encoding": {"text": {"field": "kind"}, "x": {"field": "i", "type": "quantitative", "axis": null}, "y": {"datum": 38.6, "type": "quantitative", "scale": {"domain": [-11.1, 469.7], "nice": false, "zero": false}, "axis": null}}},
{"data": {"name": "div"}, "transform": [{"filter": "datum.kind == '顶背离'"}], "mark": {"type": "point", "shape": "square", "filled": true, "size": 4, "color": "#ffff00", "opacity": 1},
 "encoding": {"x": {"field": "i", "type": "quantitative", "axis": null}, "y": {"datum": 100.4, "type": "quantitative", "scale": {"domain": [-11.1, 469.7], "nice": false, "zero": false}, "axis": null}}},
{"data": {"name": "div"}, "transform": [{"filter": "datum.kind == '底背离'"}], "mark": {"type": "point", "shape": "square", "filled": true, "size": 4, "color": "#ffff00", "opacity": 1},
 "encoding": {"x": {"field": "i", "type": "quantitative", "axis": null}, "y": {"datum": 45.9, "type": "quantitative", "scale": {"domain": [-11.1, 469.7], "nice": false, "zero": false}, "axis": null}}},
{"data": {"name": "kleg"}, "mark": {"type": "text"},
 "encoding": {"text": {"field": "t"}, "x": {"field": "x", "type": "quantitative", "axis": null},
  "y": {"datum": 122.5, "type": "quantitative", "scale": {"domain": [-11.1, 469.7], "nice": false, "zero": false}, "axis": null},
  "color": {"field": "g", "type": "nominal", "legend": null}}}
]
}
